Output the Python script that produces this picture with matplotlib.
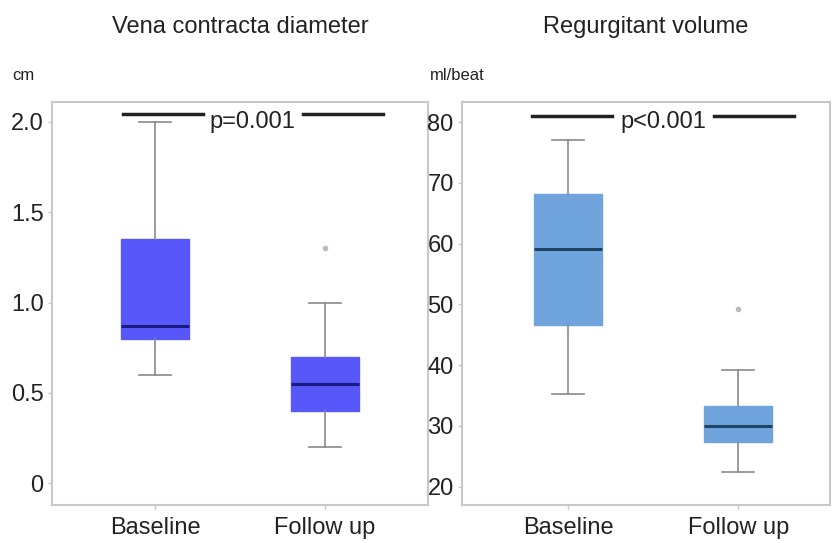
import matplotlib.pyplot as plt

plt.rcParams['font.family'] = ['Liberation Sans', 'DejaVu Sans']

groups = ['Baseline', 'Follow up']

# box stats: whislo, q1, median, q3, whishi
vc_baseline = [0.6, 0.8, 0.87, 1.35, 2.0]
vc_followup = [0.2, 0.4, 0.55, 0.7, 1.0]
vc_outliers = [[], [1.3]]

rv_baseline = [35.3, 46.7, 59.1, 68.1, 77.0]
rv_followup = [22.4, 27.3, 30.0, 33.3, 39.2]
rv_outliers = [[], [49.2]]

vc_ticks = [0, 0.5, 1.0, 1.5, 2.0]
vc_ticklabels = ['0', '0.5', '1.0', '1.5', '2.0']
rv_ticks = [20, 30, 40, 50, 60, 70, 80]


def make_stats(rows, fliers):
    out = []
    for r, f, name in zip(rows, fliers, groups):
        out.append(dict(whislo=r[0], q1=r[1], med=r[2], q3=r[3], whishi=r[4],
                        fliers=f, label=name))
    return out


fig = plt.figure(figsize=(8.35, 5.43), dpi=100)
ax1 = fig.add_axes([0.0623, 0.070, 0.4503, 0.742])
ax2 = fig.add_axes([0.5533, 0.070, 0.4407, 0.742])


def draw(ax, stats, face, medc, ylim, xlim, ticks, ticklabels, pline, ptext, unit, unit_x, title):
    ax.bxp(stats, positions=[1, 2], widths=0.4, patch_artist=True, capwidths=0.19,
           boxprops=dict(facecolor=face, edgecolor=face, linewidth=1),
           medianprops=dict(color=medc, linewidth=2.2),
           whiskerprops=dict(color='#8a8a8a', linewidth=1.2),
           capprops=dict(color='#8a8a8a', linewidth=1.2),
           flierprops=dict(marker='o', markersize=3, markerfacecolor='#bbbbbb',
                           markeredgecolor='#bbbbbb'))
    ax.set_xlim(*xlim)
    ax.set_ylim(*ylim)
    ax.set_yticks(ticks)
    ax.set_yticklabels(ticklabels)
    ax.set_xticks([1, 2])
    ax.set_xticklabels(groups)
    for s in ax.spines.values():
        s.set_color('#c8c8c8')
        s.set_linewidth(1.5)
    ax.tick_params(axis='both', colors='#c8c8c8', labelcolor='#222222',
                   labelsize=17, length=3, width=1)
    ax.tick_params(axis='x', pad=6)
    ax.tick_params(axis='y', pad=3)
    # p-value bar
    ax.plot([pline[0], pline[1]], [pline[4], pline[4]], color='#222222', lw=2.5)
    ax.plot([pline[2], pline[3]], [pline[4], pline[4]], color='#222222', lw=2.5)
    ax.text(ptext[0], ptext[1], ptext[2], ha='center', va='center', fontsize=17,
            color='#222222')
    ax.text(unit_x, 1.067, unit, transform=ax.transAxes,
            fontsize=12, ha='left', va='center', color='#222222')
    ax.set_title(title, fontsize=17, pad=50, color='#222222')


draw(ax1, make_stats([vc_baseline, vc_followup], vc_outliers), '#5858fa', '#1a1a80',
     (-0.12, 2.11), (0.394, 2.606), vc_ticks, vc_ticklabels,
     (0.81, 1.28, 1.87, 2.34, 2.044), (1.575, 2.0, 'p=0.001'), 'cm', -0.106,
     'Vena contracta diameter')
draw(ax2, make_stats([rv_baseline, rv_followup], rv_outliers), '#6fa5dc', '#1f4466',
     (17.0, 83.3), (0.376, 2.54), rv_ticks, [str(t) for t in rv_ticks],
     (0.79, 1.26, 1.86, 2.33, 81.0), (1.56, 80.0, 'p<0.001'), 'ml/beat', -0.087,
     'Regurgitant volume')

fig.savefig('out.png', dpi=100)
